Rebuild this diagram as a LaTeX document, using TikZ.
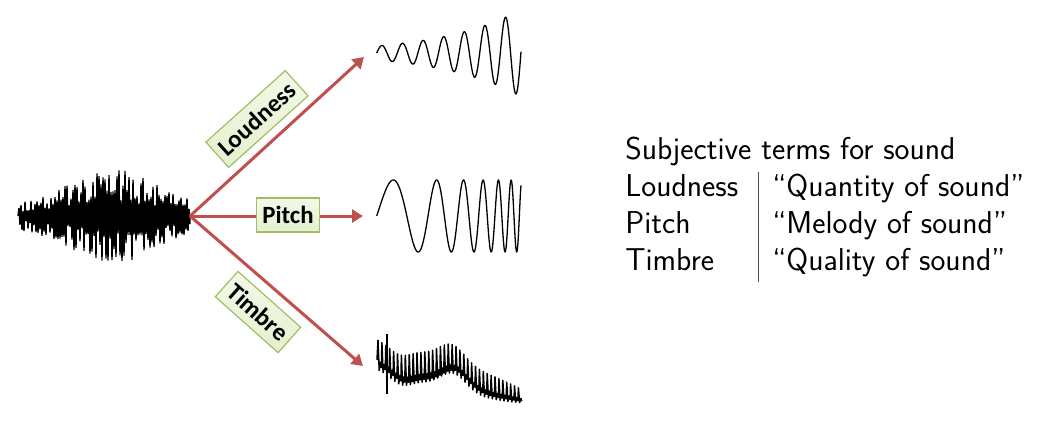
\documentclass[tikz,border=0pt]{standalone}
\usepackage{fontspec}
\newfontfamily\boxfont{Carlito}
\usetikzlibrary{arrows.meta}
\definecolor{arrowred}{RGB}{192,80,77}
\definecolor{boxfill}{RGB}{228,240,206}
\definecolor{boxline}{RGB}{160,190,100}
\tikzset{
  wave/.style={line width=0.65pt, line join=round},
  srcwave/.style={line width=0.7pt, line join=miter},
  arrowline/.style={arrowred, line width=1.5pt, -{Triangle[length=5.5pt,width=6.5pt]}},
  termbox/.style={draw=boxline, line width=0.6pt, top color=boxfill!45!white, bottom color=boxfill,
    inner xsep=2.8pt, minimum height=17pt, font=\boxfont\bfseries\fontsize{12.4}{14}\selectfont},
  termtext/.style={anchor=base west, inner sep=0pt, font=\sffamily\fontsize{15.8}{18.5}\selectfont}
}
\begin{document}
\begin{tikzpicture}[x=0.5pt, y=0.5pt,
  declare function={tmid(\t)=65-0.29*(\t-380)+17*exp(-((\t-452)/18)*((\t-452)/18))-9*exp(-((\t-400)/15)*((\t-400)/15));
                    tamp(\t)=15-7.5*((\t-378)/140)^4;
                    srcenv(\t)=12+36*exp(-((\t-112)/58)*((\t-112)/58));}]
  \useasboundingbox (0,0) rectangle (1041,420);
  \pgfmathsetseed{12}
  \draw[srcwave] (18,204)
    \foreach \x [evaluate=\x as \up using {srcenv(\x)*(0.3+0.7*rnd)},
                 evaluate=\x as \dn using {srcenv(\x)*(0.3+0.7*rnd)}] in {19,21,...,189}
    { -- (\x,204+\up) -- (\x+1,204-\dn) } -- (190,204);
  \coordinate (src) at (190,204);
  \coordinate (loudtip) at (364,363);
  \coordinate (pitchtip) at (363,204);
  \coordinate (timbretip) at (363,54);
  \draw[arrowline] (src) -- (loudtip);
  \draw[arrowline] (src) -- (pitchtip);
  \draw[arrowline] (src) -- (timbretip);
  \node[termbox, rotate=42] (loudbox) at (257,301) {Loudness};
  \node[termbox] (pitchbox) at (288,205) {Pitch};
  \node[termbox, rotate=-41.7] (timbrebox) at (258,108) {Timbre};
  \draw[wave] plot[domain=376.7:521, samples=250, smooth]
    (\x,{367+7*exp(0.0127*(\x-376.7))*sin((\x-376.7)/20.6*360)});
  \draw[wave] plot[domain=376.7:521, samples=400, smooth]
    (\x,{204+36*sin(347.5*(exp(0.01386*(\x-376.7))-1))});
  \draw[wave, line width=0.75pt] (377,60)
    \foreach \i [evaluate=\i as \xa using 378+3.9*\i,
                 evaluate=\i as \ym using tmid(378+3.9*\i),
                 evaluate=\i as \ya using tamp(378+3.9*\i)] in {0,...,36}
    { -- (\xa,\ym+\ya) -- (\xa+1.2,\ym-\ya) -- (\xa+2.5,\ym-0.45*\ya) -- (\xa+3.4,\ym-0.8*\ya) };
  \draw[wave] (387,86) -- (387,26);
  \node[termtext] (hdr) at (625,260.7) {Subjective terms for sound};
  \node[termtext] (loudterm) at (625,223.3) {Loudness};
  \node[termtext] (pitchterm) at (625,186.7) {Pitch};
  \node[termtext] (timbreterm) at (625,150) {Timbre};
  \node[termtext] (loudmean) at (772,223.3) {“Quantity of sound”};
  \node[termtext] (pitchmean) at (772,186.7) {“Melody of sound”};
  \node[termtext] (timbremean) at (772,150) {“Quality of sound”};
  \draw[gray!60!black, line width=0.6pt] (758.3,248.3) -- (758.3,138.3);
\end{tikzpicture}
\end{document}
